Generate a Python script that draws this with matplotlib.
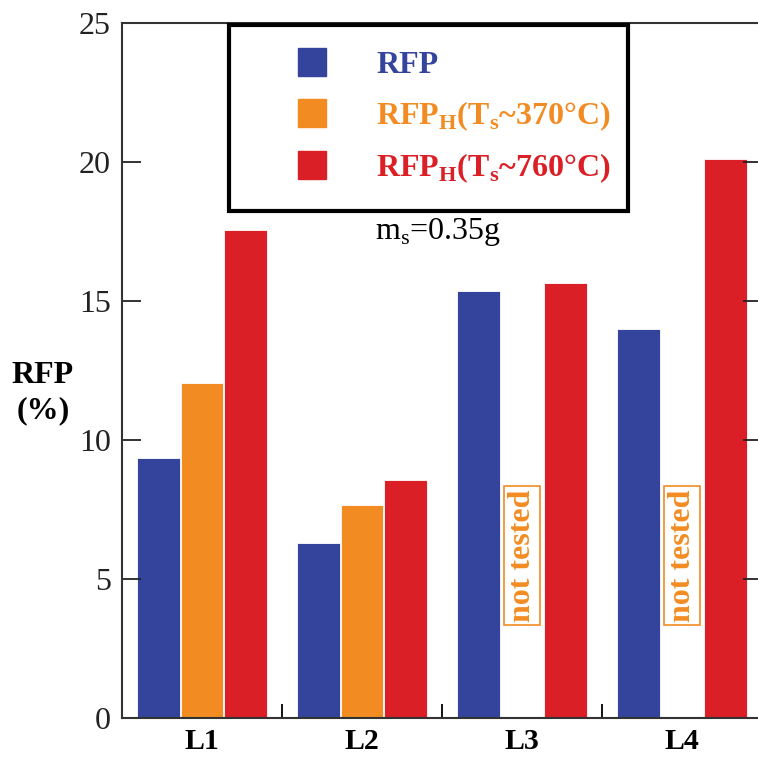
import matplotlib
matplotlib.use("Agg")
import matplotlib.pyplot as plt
from matplotlib.lines import Line2D
import numpy as np

plt.rcParams["font.family"] = ["Liberation Serif", "DejaVu Serif"]
plt.rcParams["mathtext.fontset"] = "custom"
plt.rcParams["mathtext.rm"] = "Liberation Serif"
plt.rcParams["mathtext.bf"] = "Liberation Serif:bold"

groups = ["L1", "L2", "L3", "L4"]
rfp = [9.35, 6.3, 15.35, 14.0]
rfp_h370 = [12.05, 7.65, np.nan, np.nan]
rfp_h760 = [17.55, 8.55, 15.65, 20.1]
not_tested = ["L3", "L4"]

BLUE = "#34449c"
ORANGE = "#f28c22"
RED = "#da1f26"

x = np.arange(len(groups))
w = 0.268

fig = plt.figure(figsize=(7.58, 7.59), dpi=100)
ax = fig.add_axes([122 / 758, 1 - 718 / 759, 640 / 758, 695 / 759])

for off, vals, col in [(-0.27, rfp, BLUE), (0.0, rfp_h370, ORANGE), (0.27, rfp_h760, RED)]:
    v = np.array(vals, dtype=float)
    ok = ~np.isnan(v)
    ax.bar(x[ok] + off, v[ok], width=w, color=col, edgecolor="white", linewidth=0.6)

for g in not_tested:
    i = groups.index(g)
    ax.text(x[i], 5.85, "not tested", rotation=90, ha="center", va="center",
            color=ORANGE, fontsize=23, fontweight="bold",
            bbox=dict(boxstyle="square,pad=0.1", fc="white", ec=ORANGE, lw=1.2))

ax.set_xlim(-0.5, 3.5)
ax.set_ylim(0, 25)
ax.set_yticks([0, 5, 10, 15, 20, 25])
ax.tick_params(axis="y", which="major", direction="in", length=14, width=1.3,
               labelsize=23, right=True, pad=8, colors="#222222")
ax.set_xticks(x)
ax.set_xticklabels(groups, fontsize=21.5, fontweight="bold")
ax.tick_params(axis="x", which="major", length=0, pad=7)
ax.set_xticks([0.5, 1.5, 2.5], minor=True)
ax.tick_params(axis="x", which="minor", direction="in", length=10, width=1.3, top=False)
for s in ax.spines.values():
    s.set_linewidth(1.5)
    s.set_color("#333333")

fig.text(43 / 758, 1 - 393 / 759, "RFP\n(%)", ha="center", va="center",
         fontsize=23, fontweight="bold", linespacing=1.25)

ax.text(0.494, 0.700, r"m$_\mathrm{s}$=0.35g", transform=ax.transAxes,
        ha="center", va="center", fontsize=23)

labels = ["RFP", r"RFP$_\mathbf{H}$(T$_\mathbf{s}$~370°C)", r"RFP$_\mathbf{H}$(T$_\mathbf{s}$~760°C)"]
cols = [BLUE, ORANGE, RED]
handles = [Line2D([], [], ls="none", marker="s", markersize=20, color=c) for c in cols]
leg = ax.legend(handles, labels, loc="upper left",
                bbox_to_anchor=(107 / 640, 0.997, 399 / 640, 0.0), mode="expand",
                borderaxespad=0.0,
                prop={"size": 23, "weight": "bold"}, numpoints=1,
                handlelength=3.6, handletextpad=0.2, borderpad=0.8,
                labelspacing=0.6, fancybox=False, framealpha=1)
leg.get_frame().set_edgecolor("black")
leg.get_frame().set_linewidth(3)
for t, c in zip(leg.get_texts(), cols):
    t.set_color(c)

fig.savefig("out.png", dpi=100)
